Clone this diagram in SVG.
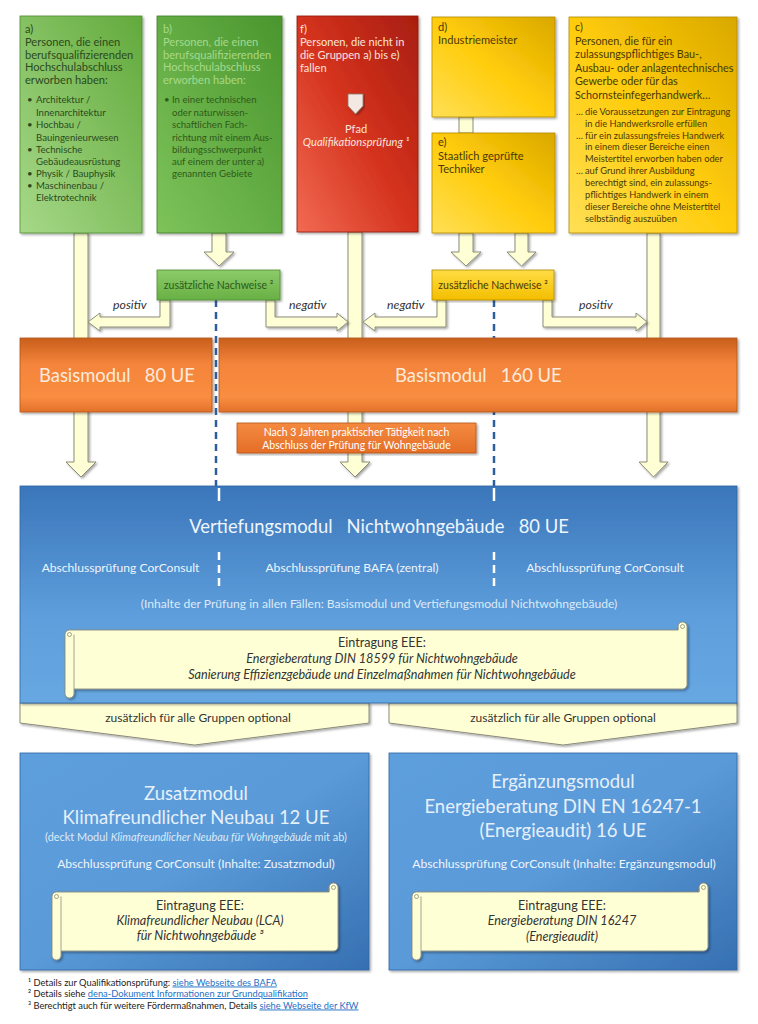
<svg xmlns="http://www.w3.org/2000/svg" width="758" height="1024" viewBox="0 0 758 1024">
<defs>
<linearGradient id="gA" x1="1" y1="0" x2="0" y2="1"><stop offset="0" stop-color="#62AA3C"/><stop offset="1" stop-color="#A6D888"/></linearGradient>
<linearGradient id="gB" x1="1" y1="0" x2="0" y2="1"><stop offset="0" stop-color="#4A962E"/><stop offset="1" stop-color="#7DC35A"/></linearGradient>
<linearGradient id="gR" x1="1" y1="0" x2="0" y2="1"><stop offset="0" stop-color="#A81E10"/><stop offset="0.5" stop-color="#D4321D"/><stop offset="1" stop-color="#F26A52"/></linearGradient>
<linearGradient id="gY" x1="1" y1="0" x2="0" y2="1"><stop offset="0" stop-color="#D9A800"/><stop offset="0.5" stop-color="#FFCC0A"/><stop offset="1" stop-color="#FFDF55"/></linearGradient>
<linearGradient id="gNG" x1="0" y1="0" x2="0" y2="1"><stop offset="0" stop-color="#8CCB6A"/><stop offset="1" stop-color="#68B044"/></linearGradient>
<linearGradient id="gNY" x1="0" y1="0" x2="0" y2="1"><stop offset="0" stop-color="#FFDD44"/><stop offset="1" stop-color="#F3BE00"/></linearGradient>
<linearGradient id="gO" x1="0" y1="0" x2="0" y2="1"><stop offset="0" stop-color="#C85E1C"/><stop offset="0.35" stop-color="#F4843A"/><stop offset="0.8" stop-color="#F98D40"/><stop offset="1" stop-color="#E2712A"/></linearGradient>
<linearGradient id="gO2" x1="0" y1="0" x2="0" y2="1"><stop offset="0" stop-color="#F48A40"/><stop offset="1" stop-color="#E46E26"/></linearGradient>
<linearGradient id="gBl" x1="0" y1="0" x2="0" y2="1"><stop offset="0" stop-color="#3A76BA"/><stop offset="0.6" stop-color="#5E9EDC"/><stop offset="1" stop-color="#67A8E2"/></linearGradient>
<linearGradient id="gBl2" x1="0" y1="0" x2="1" y2="1"><stop offset="0" stop-color="#5D9EDD"/><stop offset="0.5" stop-color="#5A9AD8"/><stop offset="1" stop-color="#3670B2"/></linearGradient>
<filter id="sh" x="-5%" y="-5%" width="112%" height="112%"><feDropShadow dx="1.5" dy="1.5" stdDeviation="1.2" flood-color="#000" flood-opacity="0.35"/></filter>
</defs>
<style>
text { font-family: Lato, "Liberation Sans", sans-serif; }
.bar { fill:#FFFFD6; stroke:#8C8C7A; stroke-width:1; }
.scr { fill:#FFFFD5; stroke:#8A8A80; stroke-width:0.9; }
.scd { fill:none; stroke:#8A8A80; stroke-width:0.8; }
.hd { font-size:11.1px; }
.hdc { font-size:10.8px; }
.bl { font-size:9.6px; }
.sub { font-size:9.3px; }
.nw { font-size:10.5px; }
.big { font-size:18.4px; white-space:pre; }
.h2 { font-size:18.5px; fill:#E6F0FA; text-anchor:middle; }
.m { font-size:12.1px; text-anchor:middle; }
.wt { fill:#EEF5FC; }
.sc { fill:#333; font-size:12.6px; text-anchor:middle; }
.it { font-style:italic; }
.lbl { font-style:italic; font-size:12.3px; fill:#333; }
.opt { font-size:12px; fill:#333; text-anchor:middle; }
.dash { stroke:#2D5F9E; stroke-width:2.5; stroke-dasharray:7 5; fill:none; }
.wdash { stroke:#FFFFFF; stroke-width:2.5; fill:none; }
.fn { font-size:9.3px; fill:#222; }
.lk { fill:#1F6FC5; text-decoration:underline; }
</style>
<rect width="758" height="1024" fill="#FFFFFF"/>

<g id="connectors">
<line class="dash" x1="216" y1="300" x2="216" y2="486"/>
<line class="dash" x1="494" y1="300" x2="494" y2="486"/>
<polygon class="bar" filter="url(#sh)" points="74,233 88,233 88,462 96,462 81,477 66,462 74,462"/>
<polygon class="bar" filter="url(#sh)" points="348,232 362,232 362,462 370,462 355,477 340,462 348,462"/>
<polygon class="bar" filter="url(#sh)" points="647,233 660,233 660,462 668,462 653.5,477 639,462 647,462"/>
<polygon class="bar" filter="url(#sh)" points="212,233 226,233 226,252 234,252 219,266 204,252 212,252"/>
<polygon class="bar" filter="url(#sh)" points="459,233 473,233 473,252 481,252 466,266 451,252 459,252"/>
<polygon class="bar" filter="url(#sh)" points="515,233 528,233 528,252 536,252 521.5,266 507,252 515,252"/>
<rect class="bar" x="459" y="117" width="14" height="16"/>
<polygon class="bar" filter="url(#sh)" points="160,300 170,300 170,327 100,327 100,331 88,322 100,313 100,317 160,317"/>
<polygon class="bar" filter="url(#sh)" points="266,300 275,300 275,317 337,317 337,313 348,322 337,331 337,327 266,327"/>
<polygon class="bar" filter="url(#sh)" points="437,300 446,300 446,327 375,327 375,331 363,322 375,313 375,317 437,317"/>
<polygon class="bar" filter="url(#sh)" points="543,300 552,300 552,317 636,317 636,313 647,322 636,331 636,327 543,327"/>
<text class="lbl" x="113" y="309">positiv</text>
<text class="lbl" x="289" y="309">negativ</text>
<text class="lbl" x="387" y="309">negativ</text>
<text class="lbl" x="579" y="309">positiv</text>
<polygon class="bar" filter="url(#sh)" points="20,703 369,703 369,723 194.5,745 20,723"/>
<polygon class="bar" filter="url(#sh)" points="389,703 737,703 737,723 563,745 389,723"/>
<text class="opt" x="198" y="721.5">zusätzlich für alle Gruppen optional</text>
<text class="opt" x="563" y="721.5">zusätzlich für alle Gruppen optional</text>
</g>

<g id="node-a">
<rect x="20" y="16" width="122" height="217" fill="url(#gA)" stroke="#4F8E32" stroke-width="0.8" filter="url(#sh)"/>
<text class="hd" fill="#2C4A1E">
<tspan x="25" y="33">a)</tspan>
<tspan x="25" y="46">Personen, die einen</tspan>
<tspan x="25" y="58.5">berufsqualifizierenden</tspan>
<tspan x="25" y="71">Hochschulabschluss</tspan>
<tspan x="25" y="84">erworben haben:</tspan>
</text>
<text class="bl" fill="#2C4A1E">
<tspan x="27" y="103">•</tspan><tspan x="36" y="103">Architektur /</tspan>
<tspan x="36" y="115.5">Innenarchitektur</tspan>
<tspan x="27" y="128">•</tspan><tspan x="36" y="128">Hochbau /</tspan>
<tspan x="36" y="140.5">Bauingenieurwesen</tspan>
<tspan x="27" y="153">•</tspan><tspan x="36" y="153">Technische</tspan>
<tspan x="36" y="165">Gebäudeausrüstung</tspan>
<tspan x="27" y="177">•</tspan><tspan x="36" y="177">Physik / Bauphysik</tspan>
<tspan x="27" y="189">•</tspan><tspan x="36" y="189">Maschinenbau /</tspan>
<tspan x="36" y="201">Elektrotechnik</tspan>
</text>
</g>

<g id="node-b">
<rect x="157" y="16" width="125" height="217" fill="url(#gB)" stroke="#3E7E26" stroke-width="0.8" filter="url(#sh)"/>
<text class="hd" fill="#A6D98C">
<tspan x="163" y="33">b)</tspan>
<tspan x="163" y="46">Personen, die einen</tspan>
<tspan x="163" y="58.5">berufsqualifizierenden</tspan>
<tspan x="163" y="71">Hochschulabschluss</tspan>
<tspan x="163" y="84">erworben haben:</tspan>
</text>
<text class="bl" fill="#2F5A1A">
<tspan x="164" y="103">•</tspan><tspan x="172" y="103">In einer technischen</tspan>
<tspan x="172" y="115.5">oder naturwissen-</tspan>
<tspan x="172" y="128">schaftlichen Fach-</tspan>
<tspan x="172" y="140.5">richtung mit einem Aus-</tspan>
<tspan x="172" y="153">bildungsschwerpunkt</tspan>
<tspan x="172" y="165">auf einem der unter a)</tspan>
<tspan x="172" y="177">genannten Gebiete</tspan>
</text>
</g>

<g id="node-f">
<rect x="297" y="16" width="121" height="216" fill="url(#gR)" stroke="#8E1A0E" stroke-width="0.8" filter="url(#sh)"/>
<text class="hd" fill="#FBE3DC">
<tspan x="300" y="33">f)</tspan>
<tspan x="300" y="46">Personen, die nicht in</tspan>
<tspan x="300" y="59">die Gruppen a) bis e)</tspan>
<tspan x="300" y="72">fallen</tspan>
</text>
<polygon points="348,94 363,94 363,106 355.5,114 348,106" fill="#F3E8E2" stroke="#8A7870" stroke-width="0.8" filter="url(#sh)"/>
<text class="hd" fill="#FBE3DC" text-anchor="middle"><tspan x="356" y="133">Pfad</tspan><tspan x="356" y="146" class="it">Qualifikationsprüfung ¹</tspan></text>
</g>

<g id="node-d">
<rect x="432" y="17" width="123" height="100" fill="url(#gY)" stroke="#B38A00" stroke-width="0.8" filter="url(#sh)"/>
<text class="hd" fill="#4A3A05"><tspan x="438" y="31">d)</tspan><tspan x="438" y="44">Industriemeister</tspan></text>
</g>

<g id="node-e">
<rect x="432" y="133" width="123" height="100" fill="url(#gY)" stroke="#B38A00" stroke-width="0.8" filter="url(#sh)"/>
<text class="hd" fill="#4A3A05"><tspan x="438" y="146">e)</tspan><tspan x="438" y="159.5">Staatlich geprüfte</tspan><tspan x="438" y="173">Techniker</tspan></text>
</g>

<g id="node-c">
<rect x="569" y="17" width="168" height="216" fill="url(#gY)" stroke="#B38A00" stroke-width="0.8" filter="url(#sh)"/>
<text class="hdc" fill="#4A3A05">
<tspan x="575" y="31">c)</tspan>
<tspan x="575" y="44.5">Personen, die für ein</tspan>
<tspan x="575" y="58">zulassungspflichtiges Bau-,</tspan>
<tspan x="575" y="71.5">Ausbau- oder anlagentechnisches</tspan>
<tspan x="575" y="85">Gewerbe oder für das</tspan>
<tspan x="575" y="98.5">Schornsteinfegerhandwerk…</tspan>
</text>
<text class="sub" fill="#4A3A05">
<tspan x="576" y="115">…</tspan><tspan x="585" y="115">die Voraussetzungen zur Eintragung</tspan>
<tspan x="585" y="127">in die Handwerksrolle erfüllen</tspan>
<tspan x="576" y="138.5">…</tspan><tspan x="585" y="138.5">für ein zulassungsfreies Handwerk</tspan>
<tspan x="585" y="150">in einem dieser Bereiche einen</tspan>
<tspan x="585" y="162">Meistertitel erworben haben oder</tspan>
<tspan x="576" y="174">…</tspan><tspan x="585" y="174">auf Grund ihrer Ausbildung</tspan>
<tspan x="585" y="186">berechtigt sind, ein zulassungs-</tspan>
<tspan x="585" y="198">pflichtiges Handwerk in einem</tspan>
<tspan x="585" y="209.5">dieser Bereiche ohne Meistertitel</tspan>
<tspan x="585" y="221.5">selbständig auszuüben</tspan>
</text>
</g>

<g id="node-nachweise-gruen">
<rect x="157" y="270" width="123" height="30" fill="url(#gNG)" stroke="#4F8E32" stroke-width="0.8" filter="url(#sh)"/>
<text class="nw" x="218.5" y="288.5" text-anchor="middle" fill="#2C5A1A">zusätzliche Nachweise ²</text>
</g>

<g id="node-nachweise-gelb">
<rect x="432" y="270" width="122" height="30" fill="url(#gNY)" stroke="#B38A00" stroke-width="0.8" filter="url(#sh)"/>
<text class="nw" x="493" y="288.5" text-anchor="middle" fill="#4A3A05">zusätzliche Nachweise ²</text>
</g>

<g id="node-basis80">
<rect x="20" y="338" width="192" height="74" fill="url(#gO)" stroke="#B4561A" stroke-width="0.8" filter="url(#sh)"/>
<text class="big" x="39" y="382" fill="#FCEBDD">Basismodul   80 UE</text>
</g>

<g id="node-basis160">
<rect x="219" y="338" width="518" height="74" fill="url(#gO)" stroke="#B4561A" stroke-width="0.8" filter="url(#sh)"/>
<text class="big" x="395" y="382" fill="#FCEBDD">Basismodul   160 UE</text>
</g>

<g id="node-nach3jahren">
<rect x="237" y="423" width="239" height="30" fill="url(#gO2)" stroke="#B4561A" stroke-width="0.8" filter="url(#sh)"/>
<text font-size="10.5px" fill="#FFFFFF" text-anchor="middle"><tspan x="356.5" y="435.5">Nach 3 Jahren praktischer Tätigkeit nach</tspan><tspan x="356.5" y="448.5">Abschluss der Prüfung für Wohngebäude</tspan></text>
</g>

<g id="node-vertiefung">
<rect x="20" y="486" width="717" height="217" fill="url(#gBl)" stroke="#2F65A5" stroke-width="0.8" filter="url(#sh)"/>
<line class="wdash" x1="219" y1="488" x2="219" y2="501"/>
<line class="wdash" x1="494" y1="488" x2="494" y2="501"/>
<path class="wdash" d="M219,552 V560 M219,565 V573 M219,578 V586 M494,552 V560 M494,565 V573 M494,578 V586"/>
<text class="big wt" x="379" y="533" text-anchor="middle">Vertiefungsmodul   Nichtwohngebäude   80 UE</text>
<text class="m wt" x="120.5" y="572">Abschlussprüfung CorConsult</text>
<text class="m wt" x="352" y="572">Abschlussprüfung BAFA (zentral)</text>
<text class="m wt" x="605" y="572">Abschlussprüfung CorConsult</text>
<text class="m" x="379" y="608" fill="#DCEAF7">(Inhalte der Prüfung in allen Fällen: Basismodul und Vertiefungsmodul Nichtwohngebäude)</text>
<path class="scr" filter="url(#sh)" d="M69.5,630 H678 V626.5 A4.5,4.5 0 0 1 687,626.5 V684.5 A4.5,4.5 0 0 1 682.5,689 H74 V693.5 A4.5,4.5 0 0 1 65,693.5 V634.5 A4.5,4.5 0 0 1 69.5,630 Z"/>
<path class="scd" d="M74,634.5 V689 M69.5,634.5 m-2,0 a2,2 0 1 0 4,0 a2,2 0 1 0 -4,0 M682.5,626.5 m-2,0 a2,2 0 1 0 4,0 a2,2 0 1 0 -4,0 M678,630 V626.5"/>
<text class="sc"><tspan x="382" y="647">Eintragung EEE:</tspan><tspan x="382" y="663" class="it">Energieberatung DIN 18599 für Nichtwohngebäude</tspan><tspan x="382" y="679" class="it">Sanierung Effizienzgebäude und Einzelmaßnahmen für Nichtwohngebäude</tspan></text>
</g>

<g id="node-zusatzmodul">
<rect x="20" y="753" width="349" height="217" fill="url(#gBl2)" stroke="#2F65A5" stroke-width="0.8" filter="url(#sh)"/>
<text class="h2"><tspan x="196" y="800">Zusatzmodul</tspan><tspan x="196" y="823.5">Klimafreundlicher Neubau 12 UE</tspan></text>
<text x="196" y="841" font-size="10.9px" fill="#DCEAF7" text-anchor="middle">(deckt Modul <tspan class="it">Klimafreundlicher Neubau für Wohngebäude</tspan> mit ab)</text>
<text class="m wt" x="196" y="868">Abschlussprüfung CorConsult (Inhalte: Zusatzmodul)</text>
<path class="scr" filter="url(#sh)" d="M56.5,892 H329 V887.5 A4.5,4.5 0 0 1 338,887.5 V946.5 A4.5,4.5 0 0 1 333.5,951 H61 V955.5 A4.5,4.5 0 0 1 52,955.5 V896.5 A4.5,4.5 0 0 1 56.5,892 Z"/>
<path class="scd" d="M61,896.5 V951 M56.5,896.5 m-2,0 a2,2 0 1 0 4,0 a2,2 0 1 0 -4,0 M333.5,887.5 m-2,0 a2,2 0 1 0 4,0 a2,2 0 1 0 -4,0 M329,892 V887.5"/>
<text class="sc"><tspan x="200" y="910">Eintragung EEE:</tspan><tspan x="200" y="924.5" class="it">Klimafreundlicher Neubau (LCA)</tspan><tspan x="200" y="940" class="it">für Nichtwohngebäude ³</tspan></text>
</g>

<g id="node-ergaenzungsmodul">
<rect x="389" y="753" width="348" height="217" fill="url(#gBl2)" stroke="#2F65A5" stroke-width="0.8" filter="url(#sh)"/>
<text class="h2"><tspan x="563" y="788">Ergänzungsmodul</tspan><tspan x="563" y="812.5">Energieberatung DIN EN 16247-1</tspan><tspan x="563" y="837">(Energieaudit) 16 UE</tspan></text>
<text class="m wt" x="564" y="868">Abschlussprüfung CorConsult (Inhalte: Ergänzungsmodul)</text>
<path class="scr" filter="url(#sh)" d="M416.5,892 H699 V887.5 A4.5,4.5 0 0 1 708,887.5 V946.5 A4.5,4.5 0 0 1 703.5,951 H421 V955.5 A4.5,4.5 0 0 1 412,955.5 V896.5 A4.5,4.5 0 0 1 416.5,892 Z"/>
<path class="scd" d="M421,896.5 V951 M416.5,896.5 m-2,0 a2,2 0 1 0 4,0 a2,2 0 1 0 -4,0 M703.5,887.5 m-2,0 a2,2 0 1 0 4,0 a2,2 0 1 0 -4,0 M699,892 V887.5"/>
<text class="sc"><tspan x="562" y="910">Eintragung EEE:</tspan><tspan x="562" y="925" class="it">Energieberatung DIN 16247</tspan><tspan x="562" y="940.5" class="it">(Energieaudit)</tspan></text>
</g>

<g id="footnotes">
<text class="fn" x="28" y="985.5">¹ Details zur Qualifikationsprüfung: <tspan class="lk">siehe Webseite des BAFA</tspan></text>
<text class="fn" x="28" y="997">² Details siehe <tspan class="lk">dena-Dokument Informationen zur Grundqualifikation</tspan></text>
<text class="fn" x="28" y="1008.5">³ Berechtigt auch für weitere Fördermaßnahmen, Details <tspan class="lk">siehe Webseite der KfW</tspan></text>
</g>
</svg>
